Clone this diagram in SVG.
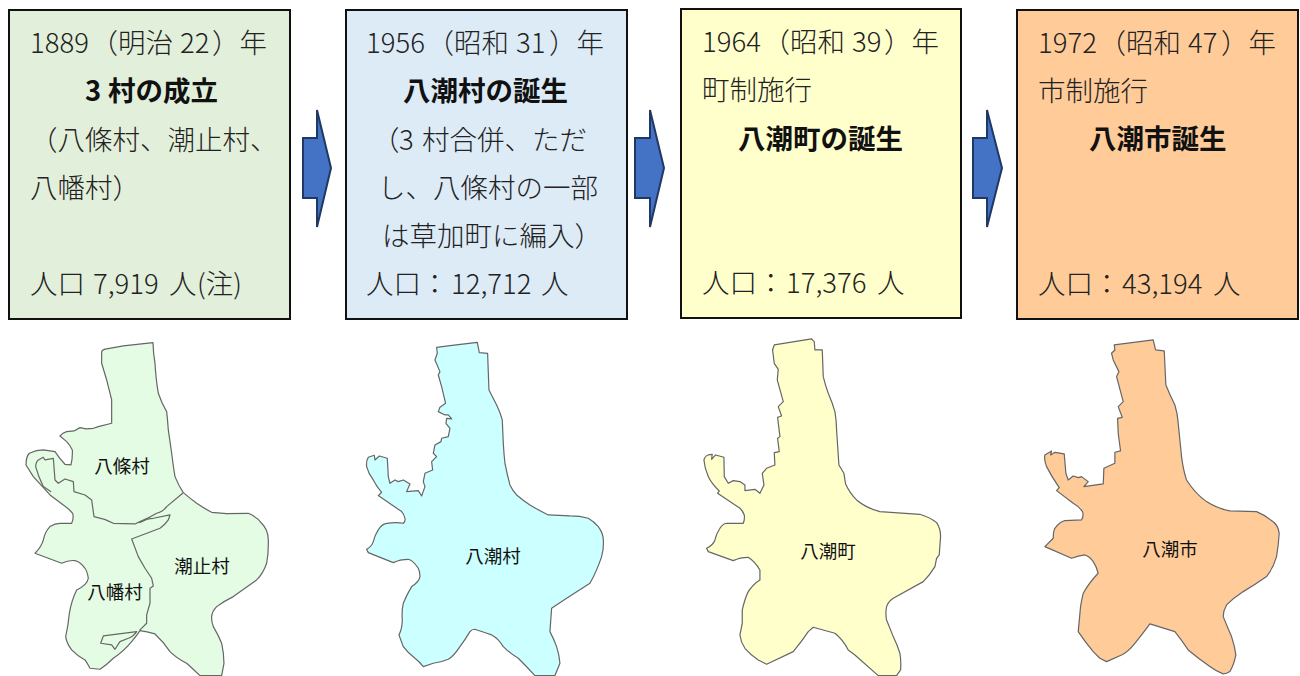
<svg xmlns="http://www.w3.org/2000/svg" width="1300" height="676" viewBox="0 0 1300 676">
<style>
text{font-family:"Noto Sans CJK JP","Noto Sans",sans-serif;fill:#222}
.t{font-size:27.5px;font-weight:300}
.b{font-size:27.5px;font-weight:700;fill:#111}
.c{text-anchor:middle}
.l{font-size:18.5px;fill:#111;text-anchor:middle}
.box{stroke:#111;stroke-width:2}
.m{stroke:#666;stroke-width:3.6;stroke-linejoin:round;stroke-linecap:round}
.n{fill:none}
.a{fill:#4472C4;stroke:#1F3864;stroke-width:2}
</style>
<defs><filter id="soft" x="-5%" y="-5%" width="110%" height="110%"><feGaussianBlur stdDeviation="1"/></filter></defs>
<g id="box1"><rect class="box" x="9" y="10" width="281" height="309" fill="#E2EFDA"/>
<text class="t" y="53"><tspan x="30">1889</tspan><tspan x="90.5">（明治</tspan><tspan x="180">22</tspan><tspan x="212">）年</tspan></text>
<text class="b" y="101"><tspan x="85">3</tspan><tspan x="108">村の成立</tspan></text>
<text class="t" x="30" y="150">（八條村、潮止村、</text>
<text class="t" x="30" y="198">八幡村）</text>
<text class="t" y="294"><tspan x="30">人口</tspan><tspan x="93">7,919</tspan><tspan x="169">人</tspan><tspan x="197">(注)</tspan></text></g>
<g id="box2"><rect class="box" x="346" y="10" width="281" height="309" fill="#DDEBF7"/>
<text class="t" y="53"><tspan x="366">1956</tspan><tspan x="426.5">（昭和</tspan><tspan x="516">31</tspan><tspan x="549">）年</tspan></text>
<text class="b" x="403" y="101">八潮村の誕生</text>
<text class="t" y="150"><tspan x="372">（</tspan><tspan x="399">3</tspan><tspan x="422">村合併、ただ</tspan></text>
<text class="t c" x="488" y="198">し、八條村の一部</text>
<text class="t c" x="492" y="246">は草加町に編入）</text>
<text class="t" y="294"><tspan x="366">人口：</tspan><tspan x="451">12,712</tspan><tspan x="541">人</tspan></text></g>
<g id="box3"><rect class="box" x="681" y="9" width="280" height="309" fill="#FFFFCC"/>
<text class="t" y="52"><tspan x="702">1964</tspan><tspan x="762.5">（昭和</tspan><tspan x="852">39</tspan><tspan x="884">）年</tspan></text>
<text class="t" x="702" y="100">町制施行</text>
<text class="b" x="738" y="149">八潮町の誕生</text>
<text class="t" y="293"><tspan x="702">人口：</tspan><tspan x="786">17,376</tspan><tspan x="877">人</tspan></text></g>
<g id="box4"><rect class="box" x="1017" y="10" width="281" height="309" fill="#FFCC99"/>
<text class="t" y="53"><tspan x="1038">1972</tspan><tspan x="1098.5">（昭和</tspan><tspan x="1188">47</tspan><tspan x="1221">）年</tspan></text>
<text class="t" x="1038" y="101">市制施行</text>
<text class="b" x="1089" y="149">八潮市誕生</text>
<text class="t" y="294"><tspan x="1038">人口：</tspan><tspan x="1122">43,194</tspan><tspan x="1213">人</tspan></text></g>
<g id="connectors">
<path class="a" d="M303 138H317V110L331 168L317 227V198H303Z"/>
<path class="a" d="M635 138H650V110L664 168L650 227V198H635Z"/>
<path class="a" d="M973 138H987V110L1002 168L987 227V198H973Z"/>
</g>
<g id="map1"><g transform="scale(.3333) translate(0,990)" filter="url(#soft)">
<path class="m" fill="#E3FCE3" d="M305,65 Q308,58 320,57 L370,48 459,38 L461,70 465,100 Q468,150 475,190 Q485,220 500,245 Q503,270 505,300 L515,370 Q520,410 525,440 Q535,465 550,488 Q570,505 590,520 Q612,535 635,547 L680,551 745,550 Q770,560 785,580 Q805,600 805,630 Q806,670 800,700 Q790,730 770,750 Q735,775 700,800 Q670,815 650,830 Q636,845 635,860 Q634,875 640,890 Q655,915 665,940 Q672,970 672,1000 L665,1037 600,1037 Q580,1018 560,1000 Q530,985 510,965 Q490,935 465,912 Q440,905 420,902 Q408,920 395,935 Q370,965 340,985 Q320,1005 300,1018 L270,1015 Q262,1000 255,990 Q232,978 215,960 Q200,940 197,920 Q205,885 208,850 Q215,810 230,780 Q262,765 265,745 Q262,725 255,715 Q240,695 225,692 Q205,690 185,700 L105,670 Q125,650 130,630 Q135,605 150,590 Q165,580 180,580 L215,580 Q222,565 218,550 Q205,535 190,525 L150,495 100,440 78,405 Q78,380 88,370 Q110,360 130,360 L165,365 Q178,385 195,403 L213,405 Q218,385 217,360 Q210,345 200,335 L180,318 Q188,308 200,305 L222,303 240,293 258,297 280,295 295,290 335,280 335,210 320,150 305,100Z"/>
<path class="m n" d="M152,485 130,470 Q115,440 107,410 Q108,395 115,390 L130,382 135,390 160,385 165,450 175,460 195,447 220,455 222,485 255,495 275,510 282,560 Q310,565 340,580 L405,582 420,575 Q445,565 470,550 Q490,545 500,530 L548,490"/>
<path class="m n" d="M420,578 Q440,565 460,565 L510,555 505,570 Q495,585 480,595 L395,627 415,680 435,715 455,745 460,768 450,775 450,820 440,855 440,880 420,900"/>
<path class="m n" d="M410,905 310,918 302,940 335,945 345,958 360,935 385,925 Q400,920 410,905"/>
</g>
<text class="l" x="122" y="473">八條村</text><text class="l" x="202" y="573">潮止村</text><text class="l" x="115" y="599">八幡村</text></g>
<g id="map2"><g transform="scale(.3333) translate(1020,990)" filter="url(#soft)">
<path class="m" fill="#CCFFFF" d="M290,52 L330,47 412,37 418,68 443,70 L447,180 Q460,205 470,225 Q482,250 487,270 L490,340 Q492,375 495,400 Q502,435 510,465 Q518,482 530,495 Q550,512 570,525 Q598,542 625,555 L690,558 Q720,558 745,565 Q762,575 775,590 Q790,610 790,630 Q792,655 785,680 Q770,725 750,760 L680,805 635,835 L630,905 Q642,928 650,950 Q658,975 660,1000 L645,1037 585,1037 Q560,1010 535,985 Q510,970 490,950 Q475,925 455,915 Q425,905 405,898 Q395,898 390,905 Q375,930 360,950 Q340,980 325,988 Q300,998 280,1000 L250,1010 Q238,995 225,985 Q205,970 190,950 L177,915 Q187,895 187,870 Q185,840 190,820 Q200,795 215,770 Q238,755 240,740 Q240,725 235,715 Q220,692 205,688 Q180,688 160,698 L85,668 80,658 Q95,650 100,635 Q105,615 115,600 Q125,582 140,580 Q170,576 190,580 Q197,573 195,565 Q192,552 185,545 L115,497 125,487 Q110,470 100,450 Q85,430 80,410 Q78,392 85,382 L103,376 105,390 118,378 142,385 145,440 150,460 165,450 175,455 190,450 210,462 200,485 235,482 245,498 255,470 250,455 255,430 278,420 275,395 290,380 280,370 285,345 303,335 305,325 325,320 330,295 318,280 320,265 335,267 325,255 315,255 295,245 300,232 317,220 305,170 295,135 300,125 285,90 292,70Z"/>
</g><text class="l" x="493" y="563">八潮村</text></g>
<g id="map3"><g transform="scale(.3333) translate(2040,990)" filter="url(#soft)">
<path class="m" fill="#FFFFCC" d="M283,45 L395,27 403,35 405,60 427,60 430,140 Q436,165 445,190 Q458,220 465,245 Q470,275 470,300 L477,405 492,430 497,462 Q510,490 530,510 Q560,535 600,545 L720,553 Q750,562 770,578 Q782,595 782,620 L778,675 770,685 765,710 Q750,735 730,755 L640,805 Q625,815 620,830 Q616,850 620,870 Q630,895 640,920 Q652,945 660,970 Q664,995 662,1020 L650,1037 595,1037 525,975 505,960 Q490,930 465,910 L400,892 385,905 Q365,935 340,965 L260,1003 235,990 Q212,975 195,955 Q182,935 180,915 L187,880 187,840 Q195,805 205,785 Q220,762 240,750 L240,720 Q225,695 205,682 Q180,682 160,692 L85,665 80,655 Q100,645 105,630 Q110,610 120,595 Q128,582 140,580 L190,580 Q195,568 193,555 Q188,542 180,535 L113,490 118,483 Q95,462 85,440 Q74,415 72,390 Q75,378 85,375 L97,373 95,388 107,375 132,382 133,440 145,460 160,452 180,455 195,465 195,482 225,478 240,490 252,465 247,430 260,415 285,405 283,368 298,365 293,325 300,320 293,262 305,258 295,230 310,215 292,150 295,118 283,100 278,60Z"/>
</g><text class="l" x="828" y="558">八潮町</text></g>
<g id="map4"><g transform="scale(.3333) translate(3030,990)" filter="url(#soft)">
<path class="m" fill="#FFCC99" d="M313,45 L430,30 437,60 463,63 468,165 Q480,195 495,225 Q503,250 505,280 L515,380 Q520,420 530,450 Q555,490 590,515 Q620,535 660,543 L740,545 Q765,555 785,572 Q805,585 808,610 Q806,645 800,680 Q790,715 770,740 Q735,765 700,785 Q670,805 650,825 Q640,842 640,860 Q652,890 665,920 Q675,950 678,975 Q672,1005 660,1025 Q650,1032 640,1032 Q620,1025 600,1010 Q565,985 535,960 Q515,930 495,905 L420,882 Q398,912 375,940 Q355,965 335,975 L290,995 270,985 250,965 Q225,935 205,905 L212,830 Q215,810 220,790 Q240,755 265,730 Q260,710 250,695 Q240,680 225,675 Q205,678 185,685 L105,650 130,625 Q130,605 135,595 Q150,575 165,572 L215,570 Q222,558 218,545 Q208,530 190,520 L140,482 148,473 Q125,440 110,410 Q102,390 105,375 L125,363 122,375 135,367 163,372 168,430 175,450 190,438 205,443 215,440 235,455 222,470 280,462 282,415 315,400 315,367 332,363 325,310 323,265 337,262 325,230 340,215 320,140 327,125 310,90 305,70 315,60Z"/>
</g><text class="l" x="1170" y="556">八潮市</text></g>
</svg>
